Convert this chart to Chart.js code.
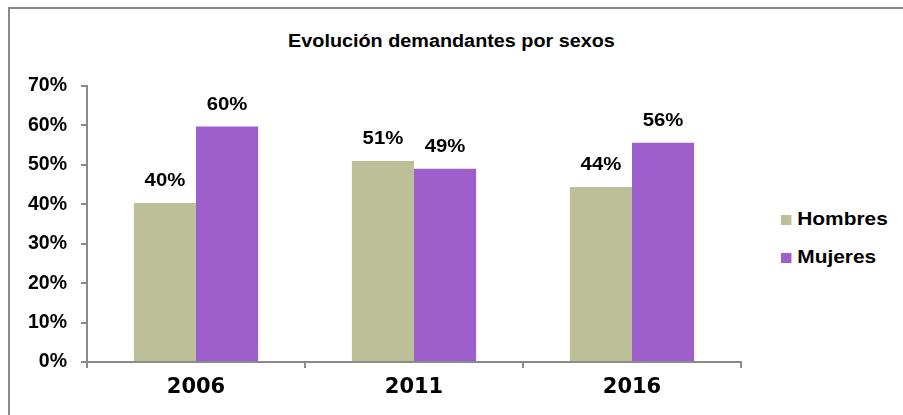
<!DOCTYPE html>
<html>
<head>
<meta charset="utf-8">
<script src="https://cdn.jsdelivr.net/npm/chart.js@4/dist/chart.umd.min.js"></script>
<style>
  body { margin: 0; background: #fff; }
  #wrap { position: relative; width: 903px; height: 415px; overflow: hidden; }
  #frame { position: absolute; left: 8px; top: 7px; width: 1000px; height: 1000px; border-left: 2px solid #8a8a8a; border-top: 2px solid #8a8a8a; }
  #title { position: absolute; left: 0; width: 903px; top: 31px; text-align: center; font: bold 18px "Liberation Sans", Arial, sans-serif; color: #000; transform: scaleX(1.1); }
  .leg { position: absolute; left: 781px; font: bold 18px "Liberation Sans", Arial, sans-serif; color: #000; transform: scaleX(1.16); transform-origin: left center; }
  .leg span { display: inline-block; width: 9px; height: 10px; margin-right: 5px; }
  canvas { position: absolute; left: 0; top: 0; }
</style>
</head>
<body>
<div id="wrap">
  <div id="frame"></div>
  <div id="title">Evolución demandantes por sexos</div>
  <div class="leg" style="top:209px"><span style="background:#bdbf98"></span>Hombres</div>
  <div class="leg" style="top:247px"><span style="background:#9d5fcc"></span>Mujeres</div>
  <canvas id="chart" width="903" height="415"></canvas>
</div>
<script>
// Data
const years = ['2006', '2011', '2016'];
const hombres = [40.3, 51.0, 44.4];
const mujeres = [59.7, 49.0, 55.6];
const yTicks = [0, 10, 20, 30, 40, 50, 60, 70];

// Value labels on top of bars (a bit wide, like the original)
const barLabels = {
    id: 'barLabels',
    afterDatasetsDraw(chart) {
        const ctx = chart.ctx;
        chart.data.datasets.forEach((ds, i) => {
            chart.getDatasetMeta(i).data.forEach((bar, j) => {
                ctx.save();
                ctx.font = 'bold 18px "Liberation Sans", Arial, sans-serif';
                ctx.fillStyle = '#000';
                ctx.textAlign = 'center';
                ctx.textBaseline = 'middle';
                ctx.translate(bar.x, bar.y - 22);
                ctx.scale(1.13, 1);
                ctx.fillText(Math.round(ds.data[j]) + '%', 0, 0);
                ctx.restore();
            });
        });
    }
};

new Chart(document.getElementById('chart').getContext('2d'), {
    type: 'bar',
    data: {
        labels: years,
        datasets: [
            { label: 'Hombres', data: hombres, backgroundColor: '#bdbf98' },
            { label: 'Mujeres', data: mujeres, backgroundColor: '#9d5fcc' }
        ]
    },
    options: {
        responsive: false,
        animation: false,
        layout: { padding: { top: 86, right: 162, bottom: 0, left: 0 } },
        datasets: { bar: { barPercentage: 1, categoryPercentage: 0.57 } },
        plugins: { legend: { display: false }, title: { display: false }, tooltip: { enabled: false } },
        scales: {
            x: {
                afterFit: s => { s.height = 53; },
                grid: { offset: true, drawOnChartArea: false, color: '#8a8a8a', lineWidth: 2, tickLength: 6 },
                border: { color: '#8a8a8a', width: 2 },
                ticks: { color: '#000', padding: 7, font: { family: '"DejaVu Sans", Verdana, sans-serif', weight: 'bold', size: 21 } }
            },
            y: {
                min: 0,
                max: 70,
                afterFit: s => { s.width = 87; },
                afterBuildTicks: s => { s.ticks = yTicks.map(v => ({ value: v })); },
                grid: { drawOnChartArea: false, color: '#8a8a8a', lineWidth: 2, tickLength: 6 },
                border: { color: '#8a8a8a', width: 2 },
                ticks: { color: '#000', padding: 14, callback: v => v + '%', font: { family: '"Liberation Sans", Arial, sans-serif', weight: 'bold', size: 19.5 } }
            }
        }
    },
    plugins: [barLabels]
});
</script>
</body>
</html>
